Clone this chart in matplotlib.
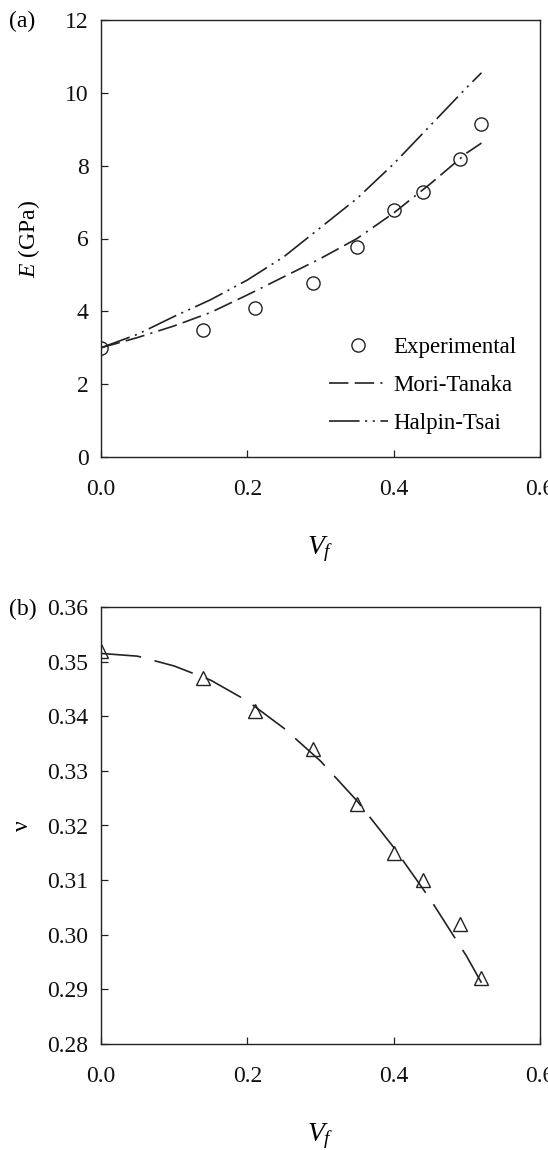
import matplotlib
matplotlib.use("Agg")
import matplotlib.pyplot as plt
import numpy as np

plt.rcParams['font.family'] = ['Liberation Serif', 'DejaVu Serif']
plt.rcParams['mathtext.fontset'] = 'custom'
plt.rcParams['mathtext.rm'] = 'Liberation Serif'
plt.rcParams['mathtext.it'] = 'Liberation Serif:italic'
plt.rcParams['lines.scale_dashes'] = False

# ---- data (a) ----
vf_exp = [0.0, 0.14, 0.21, 0.29, 0.35, 0.40, 0.44, 0.49, 0.52]
E_exp = [3.0, 3.48, 4.08, 4.78, 5.78, 6.78, 7.27, 8.17, 9.15]

vf_curve = [0.0, 0.05, 0.10, 0.15, 0.20, 0.25, 0.30, 0.35, 0.40, 0.45, 0.50, 0.52]
E_mori = [3.0, 3.28, 3.60, 3.97, 4.45, 4.95, 5.45, 6.00, 6.70, 7.50, 8.35, 8.62]
E_halpin = [3.0, 3.37, 3.86, 4.32, 4.86, 5.50, 6.30, 7.10, 8.05, 9.10, 10.15, 10.55]

# ---- data (b) ----
nu_exp = [0.352, 0.347, 0.341, 0.334, 0.324, 0.315, 0.310, 0.302, 0.292]
nu_curve = [0.3515, 0.3510, 0.3492, 0.3466, 0.3428, 0.3378, 0.3318, 0.3245,
            0.3160, 0.3065, 0.2960, 0.2912]

fs = 17
fig = plt.figure(figsize=(5.48, 11.5), dpi=100)
axL, axR = 101 / 548, 540 / 548
ax1 = fig.add_axes([axL, 1 - 457 / 1150, axR - axL, (457 - 20) / 1150])
ax2 = fig.add_axes([axL, 1 - 1044 / 1150, axR - axL, (1044 - 607) / 1150])

mori_dash = (0, (14, 4.5, 14, 4.5, 1.5, 4.5))
halpin_dash = (0, (22, 4, 1.5, 4, 1.5, 4))

ax1.plot(vf_exp, E_exp, linestyle='none', marker='o', markersize=9.5,
         markerfacecolor='none', markeredgecolor='#222222', markeredgewidth=1.0,
         label='Experimental', zorder=3)
ax1.plot(vf_curve, E_mori, color='#222222', lw=1.2, linestyle=mori_dash,
         label='Mori-Tanaka')
ax1.plot(vf_curve, E_halpin, color='#222222', lw=1.2, linestyle=halpin_dash,
         label='Halpin-Tsai')
ax1.set_xlim(0, 0.6)
ax1.set_ylim(0, 12)
ax1.set_xticks([0.0, 0.2, 0.4, 0.6])
ax1.set_xticklabels(['0.0', '0.2', '0.4', '0.6'])
ax1.set_yticks(range(0, 13, 2))
ax1.set_ylabel('$E$ (GPa)', fontsize=fs)
ax1.yaxis.set_label_coords(-0.135, 0.5)
ax1.set_xlabel('$V_f$', fontsize=20)
ax1.xaxis.set_label_coords(0.5, -0.212)
ax1.xaxis.label.set_va('center')
leg = ax1.legend(loc='upper left', frameon=False, fontsize=16.5,
                 handlelength=2.57, handletextpad=0.26, labelspacing=0.75,
                 numpoints=1, borderaxespad=0.0, borderpad=0.0,
                 bbox_to_anchor=(0.519, 0.275))

ax2.plot(vf_curve, nu_curve, color='#222222', lw=1.2, linestyle=(0, (29, 10)))
ax2.plot(vf_exp, nu_exp, linestyle='none', marker='^', markersize=9.5,
         markerfacecolor='none', markeredgecolor='#222222', markeredgewidth=1.0,
         zorder=3)
ax2.set_xlim(0, 0.6)
ax2.set_ylim(0.28, 0.36)
ax2.set_xticks([0.0, 0.2, 0.4, 0.6])
ax2.set_xticklabels(['0.0', '0.2', '0.4', '0.6'])
yt = [0.28, 0.29, 0.30, 0.31, 0.32, 0.33, 0.34, 0.35, 0.36]
ax2.set_yticks(yt)
ax2.set_yticklabels(['%.2f' % v for v in yt])
ax2.set_ylabel('ν', fontsize=fs)
ax2.yaxis.set_label_coords(-0.155, 0.5)
ax2.set_xlabel('$V_f$', fontsize=20)
ax2.xaxis.set_label_coords(0.5, -0.212)
ax2.xaxis.label.set_va('center')

for ax in (ax1, ax2):
    ax.tick_params(direction='in', length=5, width=0.9, labelsize=fs,
                   top=False, right=False, colors='#222222',
                   labelcolor='#111111')
    ax.tick_params(axis='y', pad=9)
    ax.tick_params(axis='x', pad=16)
    for s in ax.spines.values():
        s.set_linewidth(1.0)
        s.set_color('#222222')

fig.text(9 / 548, 1 - 21 / 1150, '(a)', fontsize=fs, va='center', ha='left')
fig.text(9 / 548, 1 - 609 / 1150, '(b)', fontsize=fs, va='center', ha='left')

fig.savefig('out.png', dpi=100)
